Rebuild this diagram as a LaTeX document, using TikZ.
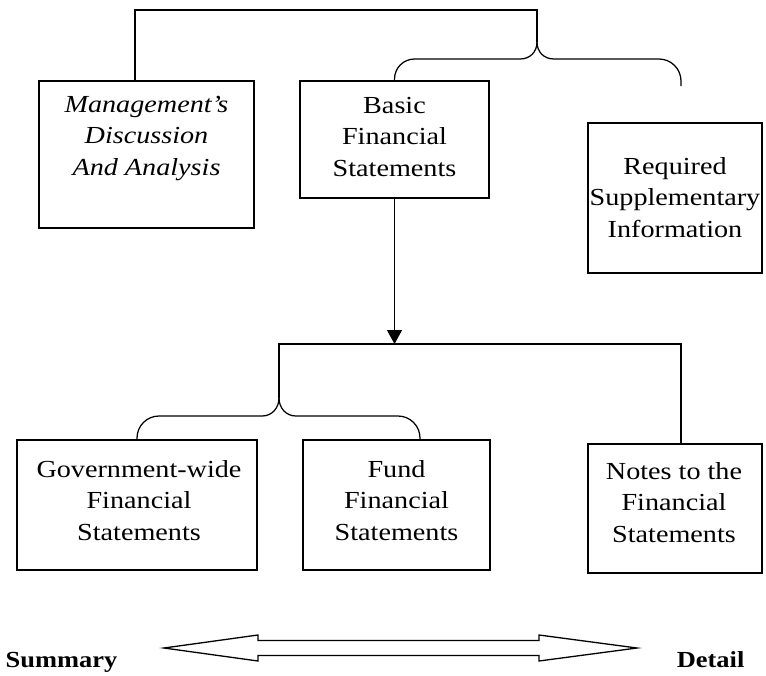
\documentclass[tikz,border=0pt]{standalone}
\usepackage{fontspec}
\setmainfont[FakeStretch=1.15]{Liberation Serif}
\usetikzlibrary{arrows.meta,calc}
\begin{document}
\begin{tikzpicture}[x=1pt,y=-1pt,line width=1.25pt,
  box/.style={draw,rectangle,inner sep=0pt},
  txt/.style={align=center,inner sep=0pt,anchor=base,font=\fontsize{24.5}{31.5}\selectfont},
  lbl/.style={inner sep=0pt,font=\fontsize{23}{26}\selectfont\bfseries}]
\useasboundingbox (0,0) rectangle (766,675);
% boxes
\node[box,minimum width=215pt,minimum height=147pt] (mda) at (146.5,154.5) {};
\node[box,minimum width=189pt,minimum height=117pt] (basic) at (394.5,139.5) {};
\node[box,minimum width=174pt,minimum height=150pt] (rsi) at (675,198) {};
\node[box,minimum width=240pt,minimum height=130pt] (gov) at (137,505) {};
\node[box,minimum width=187pt,minimum height=130pt] (fund) at (396.5,505) {};
\node[box,minimum width=174pt,minimum height=129pt] (notes) at (675,508.5) {};
% texts
\node[txt] (mdaT) at (146.5,175) {\itshape Management's\\\itshape Discussion\\\itshape And Analysis};
\node[txt] (basicT) at (394.5,176) {Basic\\Financial\\Statements};
\node[txt] (rsiT) at (675,237) {Required\\Supplementary\\Information};
\node[txt] (govT) at (139,540) {Government-wide\\Financial\\Statements};
\node[txt] (fundT) at (396.5,540) {Fund\\Financial\\Statements};
\node[txt] (notesT) at (674,542) {Notes to the\\Financial\\Statements};
\node[lbl,anchor=base west] (summary) at (5,667) {Summary};
\node[lbl,anchor=base east] (detail) at (745,667) {Detail};
% top bracket
\coordinate (tl) at (135,10);
\coordinate (tr) at (537,10);
\coordinate (ttip) at (537,42);
\coordinate (tb) at (0,59);
\coordinate (rEnd) at (681,86);
\draw (tl |- mda.north) -- (tl) -- (tr) -- (ttip);
\draw (ttip) .. controls +(0,10) and +(10,0) .. ($(ttip)+(-17,17)$) [rounded corners=20] -- (basic.north |- tb) -- (basic.north);
\draw (ttip) .. controls +(0,10) and +(-10,0) .. ($(ttip)+(17,17)$) [rounded corners=22] -- (rEnd |- tb) -- (rEnd);
% arrow down
\coordinate (hc) at (0,344);
\draw[-{Triangle[length=14pt,width=15pt]}] (basic.south) -- (basic.south |- hc);
% lower connector
\coordinate (lt) at (279,344);
\coordinate (rt) at (681,344);
\coordinate (ltip) at (279,398);
\coordinate (lb) at (0,416);
\coordinate (fEnd) at (420,440);
\draw (ltip) -- (lt) -- (rt) -- (rt |- notes.north);
\draw (ltip) .. controls +(0,10) and +(10,0) .. ($(ltip)+(-17,18)$) [rounded corners=22] -- (gov.north |- lb) -- (gov.north);
\draw (ltip) .. controls +(0,10) and +(-10,0) .. ($(ltip)+(17,18)$) [rounded corners=22] -- (fEnd |- lb) -- (fEnd);
% summary-detail double arrow
\draw[line width=1.3pt,line join=miter] (164,648) -- (258,635) -- (258,640.5) -- (539,640.5) -- (539,635) -- (637,648) -- (539,661) -- (539,655.5) -- (258,655.5) -- (258,661) -- cycle;
\end{tikzpicture}
\end{document}
